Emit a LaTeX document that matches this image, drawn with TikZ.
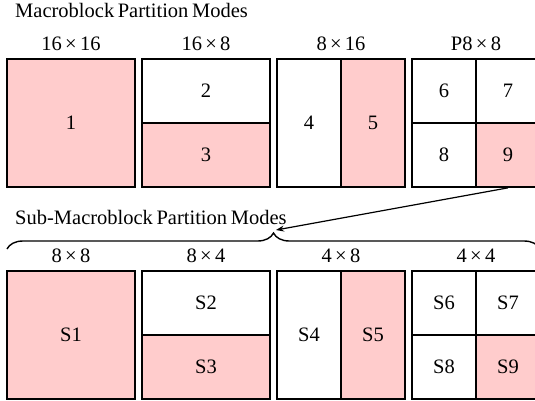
\documentclass[tikz,border=0pt]{standalone}
\usepackage{fontspec}
\setmainfont{Liberation Serif}
\usetikzlibrary{decorations.pathreplacing,arrows.meta}
\definecolor{partpink}{RGB}{255,204,204}
\newcommand{\by}[2]{#1\hspace{0.16em}×\hspace{0.16em}#2}
\newcommand{\headfont}{\fontsize{20.5}{24}\selectfont\spaceskip=3.6pt\relax}
\begin{document}
\begin{tikzpicture}[x=1pt,y=-1pt,
  font=\fontsize{20.5}{24}\selectfont,
  cell/.style={draw, line width=1.7pt, inner sep=0pt, fill=white},
  hot/.style={cell, fill=partpink},
  whole/.style={minimum width=128pt, minimum height=128pt},
  wide/.style={minimum width=128pt, minimum height=64pt},
  tall/.style={minimum width=64pt, minimum height=128pt},
  quad/.style={minimum width=64pt, minimum height=64pt},
  heading/.style={anchor=base west, inner sep=0pt, font=\headfont},
  sizelabel/.style={anchor=base, inner sep=0pt}]
\clip (0,0) rectangle (535,400);

% macroblock partitions
\node[heading] (t1) at (15,17.3) {Macroblock Partition Modes};
\node[sizelabel] (l1) at (71,50.7) {\by{16}{16}};
\node[sizelabel] (l2) at (206,50.7) {\by{16}{8}};
\node[sizelabel] (l3) at (341,50.7) {\by{8}{16}};
\node[sizelabel] (l4) at (476,50.7) {P\by{8}{8}};

\node[hot,whole] (c1) at (71,123) {1};
\node[cell,wide] (c2) at (206,91) {2};
\node[hot,wide] (c3) at (206,155) {3};
\node[cell,tall] (c4) at (309,123) {4};
\node[hot,tall] (c5) at (373,123) {5};
\node[cell,quad] (c6) at (444,91) {6};
\node[cell,quad] (c7) at (508,91) {7};
\node[cell,quad] (c8) at (444,155) {8};
\node[hot,quad] (c9) at (508,155) {9};

% sub-macroblock partitions
\node[heading] (t2) at (15,224.3) {Sub-Macroblock Partition Modes};
\coordinate (bl) at (7,249);
\coordinate (br) at (540,249);
\coordinate (bt) at (276,230);
\draw[line width=1.4pt, decorate, decoration={brace, amplitude=16pt}] (bl) -- (br);
\draw[line width=1.2pt, -{Stealth[length=8pt,width=6pt]}] (c9.south) -- (bt);

\node[sizelabel] (m1) at (71,262.7) {\by{8}{8}};
\node[sizelabel] (m2) at (206,262.7) {\by{8}{4}};
\node[sizelabel] (m3) at (341,262.7) {\by{4}{8}};
\node[sizelabel] (m4) at (476,262.7) {\by{4}{4}};

\node[hot,whole] (s1) at (71,335) {S1};
\node[cell,wide] (s2) at (206,303) {S2};
\node[hot,wide] (s3) at (206,367) {S3};
\node[cell,tall] (s4) at (309,335) {S4};
\node[hot,tall] (s5) at (373,335) {S5};
\node[cell,quad] (s6) at (444,303) {S6};
\node[cell,quad] (s7) at (508,303) {S7};
\node[cell,quad] (s8) at (444,367) {S8};
\node[hot,quad] (s9) at (508,367) {S9};
\end{tikzpicture}
\end{document}
